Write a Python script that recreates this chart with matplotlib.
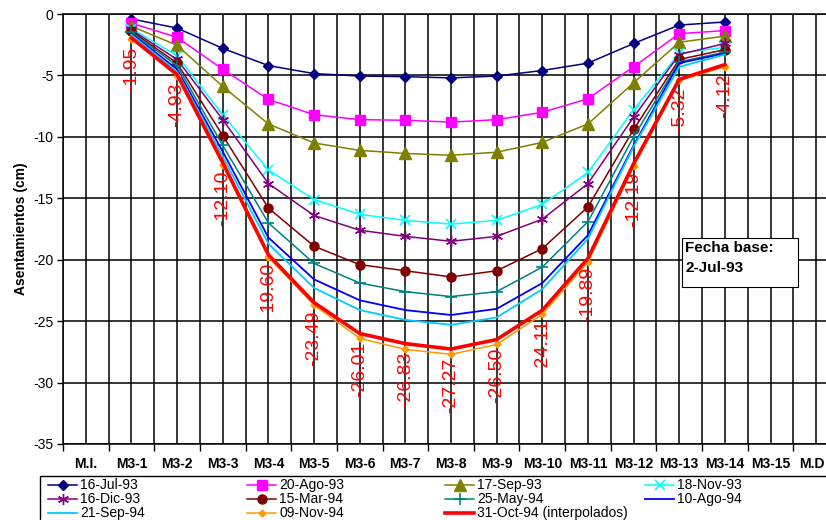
import numpy as np
import matplotlib
matplotlib.use("Agg")
import matplotlib.pyplot as plt
import matplotlib.transforms as mtransforms
from matplotlib.lines import Line2D
from matplotlib.patches import Rectangle

plt.rcParams['font.family'] = ['Liberation Sans', 'DejaVu Sans']

categories = ["M.I.", "M3-1", "M3-2", "M3-3", "M3-4", "M3-5", "M3-6", "M3-7",
              "M3-8", "M3-9", "M3-10", "M3-11", "M3-12", "M3-13", "M3-14",
              "M3-15", "M.D"]
measured = categories[1:15]

s_16jul93 = [-0.4, -1.15, -2.8, -4.2, -4.85, -5.05, -5.1, -5.2, -5.05, -4.6, -4.0, -2.4, -0.9, -0.65]
s_20ago93 = [-0.75, -1.9, -4.5, -6.95, -8.2, -8.6, -8.65, -8.8, -8.6, -8.0, -6.9, -4.3, -1.6, -1.35]
s_17sep93 = [-1.0, -2.55, -5.9, -8.95, -10.5, -11.1, -11.35, -11.5, -11.25, -10.45, -8.95, -5.6, -2.3, -1.8]
s_18nov93 = [-1.2, -3.4, -8.2, -12.7, -15.1, -16.3, -16.8, -17.1, -16.8, -15.5, -12.9, -7.8, -3.2, -2.7]
s_16dic93 = [-1.3, -3.7, -8.6, -13.8, -16.4, -17.6, -18.1, -18.5, -18.1, -16.7, -13.8, -8.4, -3.3, -2.4]
s_15mar94 = [-1.4, -4.0, -9.9, -15.8, -18.9, -20.4, -20.9, -21.4, -20.9, -19.1, -15.7, -9.4, -3.7, -2.9]
s_25may94 = [-1.5, -4.2, -10.7, -17.0, -20.3, -21.9, -22.6, -23.0, -22.6, -20.6, -16.9, -10.0, -3.9, -3.1]
s_10ago94 = [-1.6, -4.5, -11.2, -18.2, -21.6, -23.3, -24.1, -24.5, -24.0, -21.9, -18.0, -10.7, -4.0, -3.2]
s_21sep94 = [-1.7, -4.7, -11.6, -18.7, -22.3, -24.1, -24.9, -25.3, -24.7, -22.4, -18.3, -10.8, -4.3, -3.3]
s_09nov94 = [-2.0, -5.05, -12.3, -19.8, -23.7, -26.4, -27.3, -27.7, -26.9, -24.45, -20.2, -12.4, -5.4, -4.3]
s_31oct94 = [-1.95, -4.93, -12.10, -19.60, -23.49, -26.01, -26.83, -27.27, -26.50, -24.11, -19.89, -12.19, -5.32, -4.12]

series_names = ["16-Jul-93", "20-Ago-93", "17-Sep-93", "18-Nov-93", "16-Dic-93",
                "15-Mar-94", "25-May-94", "10-Ago-94", "21-Sep-94", "09-Nov-94",
                "31-Oct-94 (interpolados)"]
series_values = [s_16jul93, s_20ago93, s_17sep93, s_18nov93, s_16dic93, s_15mar94,
                 s_25may94, s_10ago94, s_21sep94, s_09nov94, s_31oct94]
yticks = [0, -5, -10, -15, -20, -25, -30, -35]

styles = [
    dict(color="#000080", marker="D", ms=5, lw=1.1),
    dict(color="#FF00FF", marker="s", ms=7, lw=1.1),
    dict(color="#808000", marker="^", ms=8, lw=1.1),
    dict(color="#00FFFF", marker="x", ms=7, lw=1.1, mew=1.2),
    dict(color="#800080", marker=(6, 2, 0), ms=8, lw=1.1, mew=1.0),
    dict(color="#800000", marker="o", ms=6.5, lw=1.1),
    dict(color="#008080", marker="+", ms=8, lw=1.1, mew=1.2),
    dict(color="#0000FF", marker=None, ms=0, lw=1.3),
    dict(color="#00CCFF", marker=None, ms=0, lw=1.3),
    dict(color="#FF9900", marker="D", ms=3.5, lw=1.1),
    dict(color="#FF0000", marker=None, ms=0, lw=2.6),
]

W, H = 826, 520
fig = plt.figure(figsize=(W / 100, H / 100), dpi=100)
fig.patch.set_facecolor("white")

def fx(x):
    return x / W

def fy(y):
    return 1 - y / H

ax = fig.add_axes([fx(63), fy(444), (839 - 63) / W, (444 - 14) / H])
x_pos = np.arange(len(categories))
meas_pos = [categories.index(c) for c in measured]

for name, vals, st in zip(series_names, series_values, styles):
    ax.plot(meas_pos, vals, color=st["color"], lw=st["lw"], marker=st["marker"],
            markersize=st["ms"], markeredgewidth=st.get("mew", 1.0),
            markerfacecolor=st["color"], markeredgecolor=st["color"], zorder=3)

for xp, v in zip(meas_pos, s_31oct94):
    ax.annotate(f"{v:.2f}", (xp, v), xytext=(0, -6), textcoords="offset points",
                rotation=90, ha="center", va="top", color="red", fontsize=14, zorder=5)

ax.set_xlim(-0.5, len(categories) - 0.5)
ax.set_ylim(-35, 0)
ax.set_xticks(x_pos)
ax.set_xticklabels(categories, fontweight="bold", fontsize=10,
                   family=["Liberation Sans Narrow", "Liberation Sans"])
ax.set_xticks(np.arange(-0.5, len(categories), 1.0), minor=True)
ax.tick_params(axis="x", which="major", length=0, pad=9)
ax.tick_params(axis="x", which="minor", length=5, width=1.0, direction="out", color="black")
# keep the last category label inside the picture
last_lbl = ax.get_xticklabels()[-1]
last_lbl.set_transform(last_lbl.get_transform() +
                       mtransforms.ScaledTranslation(-4 / 100, 0, fig.dpi_scale_trans))
ax.set_yticks(yticks)
ax.set_yticklabels([str(t) for t in yticks], fontsize=10)
ax.tick_params(axis="y", length=4, width=1.0, direction="out", pad=3)
ax.grid(True, which="major", axis="both", color="black", lw=1.1, zorder=1)
ax.grid(True, which="minor", axis="x", color="black", lw=1.1, zorder=1)
ax.set_axisbelow(True)
for sp in ax.spines.values():
    sp.set_color("black")
    sp.set_linewidth(1.1)
ax.set_ylabel("Asentamientos (cm)", fontweight="bold", fontsize=10)
ax.yaxis.set_label_coords(-0.045, 0.5)

# Fecha base box
fig.add_artist(Rectangle((fx(682), fy(287)), (798 - 682) / W, (287 - 238) / H,
                         transform=fig.transFigure, facecolor="white",
                         edgecolor="black", lw=0.8, zorder=4))
fig.text(fx(685), fy(248), "Fecha base:", fontsize=11, fontweight="bold",
         va="center", ha="left", zorder=5)
fig.text(fx(685), fy(268), "2-Jul-93", fontsize=11, fontweight="bold",
         va="center", ha="left", zorder=5)

# Legend (Excel style, row-wise, fixed column pitch)
fig.add_artist(Rectangle((fx(40), fy(530)), (900 - 40) / W, (530 - 476) / H,
                         transform=fig.transFigure, facecolor="white",
                         edgecolor="black", lw=1.0, zorder=4))
col_x = [48, 247, 445, 645]
row_y = [485, 499, 513]
for i, (name, st) in enumerate(zip(series_names, styles)):
    r, c = divmod(i, 4)
    x0, y0 = col_x[c], row_y[r]
    fig.add_artist(Line2D([fx(x0), fx(x0 + 29)], [fy(y0), fy(y0)],
                          transform=fig.transFigure, color=st["color"],
                          lw=st["lw"], zorder=5))
    if st["marker"] is not None:
        fig.add_artist(Line2D([fx(x0 + 14.5)], [fy(y0)], transform=fig.transFigure,
                              color=st["color"], marker=st["marker"],
                              markersize=st["ms"], markeredgewidth=st.get("mew", 1.0),
                              markerfacecolor=st["color"], markeredgecolor=st["color"],
                              lw=0, zorder=6))
    fig.text(fx(x0 + 32), fy(y0), name, fontsize=10, va="center", ha="left", zorder=6)

fig.savefig("out.png", dpi=100)
